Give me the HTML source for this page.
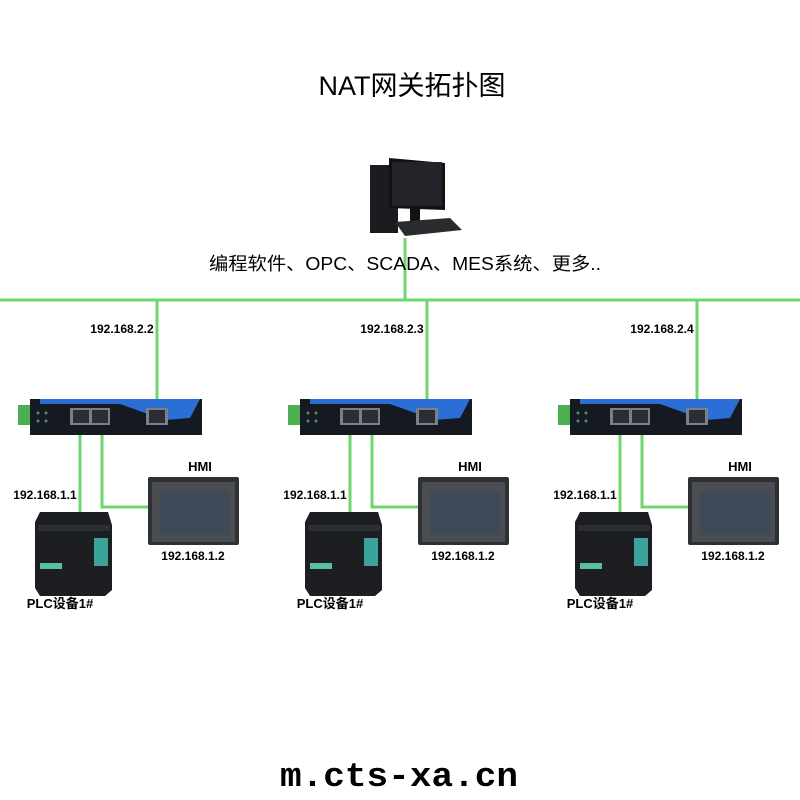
<!DOCTYPE html>
<html><head><meta charset="utf-8"><style>
html,body{margin:0;padding:0;background:#fff;}
svg{display:block;}
text{font-family:"Liberation Sans","Noto Sans CJK SC",sans-serif;}
text.mono{font-family:"Liberation Mono","DejaVu Sans Mono",monospace;}
</style></head><body>
<svg width="800" height="800" viewBox="0 0 800 800" xmlns="http://www.w3.org/2000/svg">
<defs>
<g id="unit">
  <g stroke="#6ed66e" stroke-width="3" fill="none">
    <line x1="157" y1="300" x2="157" y2="400"/>
    <line x1="80" y1="435" x2="80" y2="512"/>
    <polyline points="102,435 102,507 148,507"/>
  </g>
  <rect x="18" y="405" width="13" height="20" fill="#4caf50"/>
  <rect x="30" y="399" width="172" height="36" fill="#151a22"/>
  <polygon points="40,399 200,399 190,418 165,420 120,404 40,404" fill="#2b6fd6"/>
  <rect x="70" y="408" width="40" height="17" fill="#7a8088"/>
  <rect x="73" y="410" width="16" height="13" fill="#2a2e33"/>
  <rect x="92" y="410" width="16" height="13" fill="#2a2e33"/>
  <rect x="146" y="408" width="22" height="17" fill="#7a8088"/>
  <rect x="149" y="410" width="16" height="13" fill="#2a2e33"/>
  <g fill="#5b8a5b"><circle cx="38" cy="413" r="1.5"/><circle cx="38" cy="421" r="1.5"/><circle cx="46" cy="413" r="1.5"/><circle cx="46" cy="421" r="1.5"/></g>
  <rect x="148" y="477" width="91" height="68" fill="#2e3033" rx="2"/>
  <rect x="152" y="482" width="83" height="60" fill="#4a4d52"/>
  <rect x="160" y="492" width="70" height="43" fill="#3f4a58"/>
  <text x="200" y="471" font-size="13" font-weight="bold" text-anchor="middle">HMI</text>
  <text x="193" y="560" font-size="12" font-weight="bold" text-anchor="middle">192.168.1.2</text>
  <text x="45" y="499" font-size="12" font-weight="bold" text-anchor="middle">192.168.1.1</text>
  <polygon points="40,512 108,512 112,525 112,590 105,596 40,596 35,588 35,522" fill="#1c1e21"/>
  <rect x="38" y="525" width="72" height="6" fill="#2c2f33"/>
  <rect x="94" y="538" width="14" height="28" fill="#3aa39a"/>
  <rect x="40" y="563" width="22" height="6" fill="#55c0a8"/>
  <text x="60" y="608" font-size="13" font-weight="bold" text-anchor="middle">PLC设备1#</text>
</g>
</defs>
<text x="412" y="95" font-size="27" text-anchor="middle">NAT网关拓扑图</text>
<rect x="370" y="165" width="28" height="68" fill="#1b1c1f"/>
<polygon points="389,158 445,163 445,210 389,208" fill="#111"/>
<rect x="392" y="162" width="50" height="44" fill="#222429"/>
<rect x="410" y="208" width="10" height="14" fill="#111"/>
<polygon points="395,222 450,218 462,230 405,236" fill="#2a2b2f"/>
<line x1="405" y1="238" x2="405" y2="300" stroke="#6ed66e" stroke-width="3"/>
<text x="405" y="270" font-size="18" text-anchor="middle" textLength="392" lengthAdjust="spacingAndGlyphs">编程软件、OPC、SCADA、MES系统、更多..</text>
<line x1="0" y1="300" x2="800" y2="300" stroke="#6ed66e" stroke-width="3"/>
<text x="122" y="333" font-size="12" font-weight="bold" text-anchor="middle">192.168.2.2</text>
<text x="392" y="333" font-size="12" font-weight="bold" text-anchor="middle">192.168.2.3</text>
<text x="662" y="333" font-size="12" font-weight="bold" text-anchor="middle">192.168.2.4</text>
<use href="#unit"/>
<use href="#unit" transform="translate(270,0)"/>
<use href="#unit" transform="translate(540,0)"/>
<text class="mono" x="280" y="786" font-size="34" font-weight="bold" textLength="238" lengthAdjust="spacingAndGlyphs">m.cts-xa.cn</text>
</svg>
</body></html>
